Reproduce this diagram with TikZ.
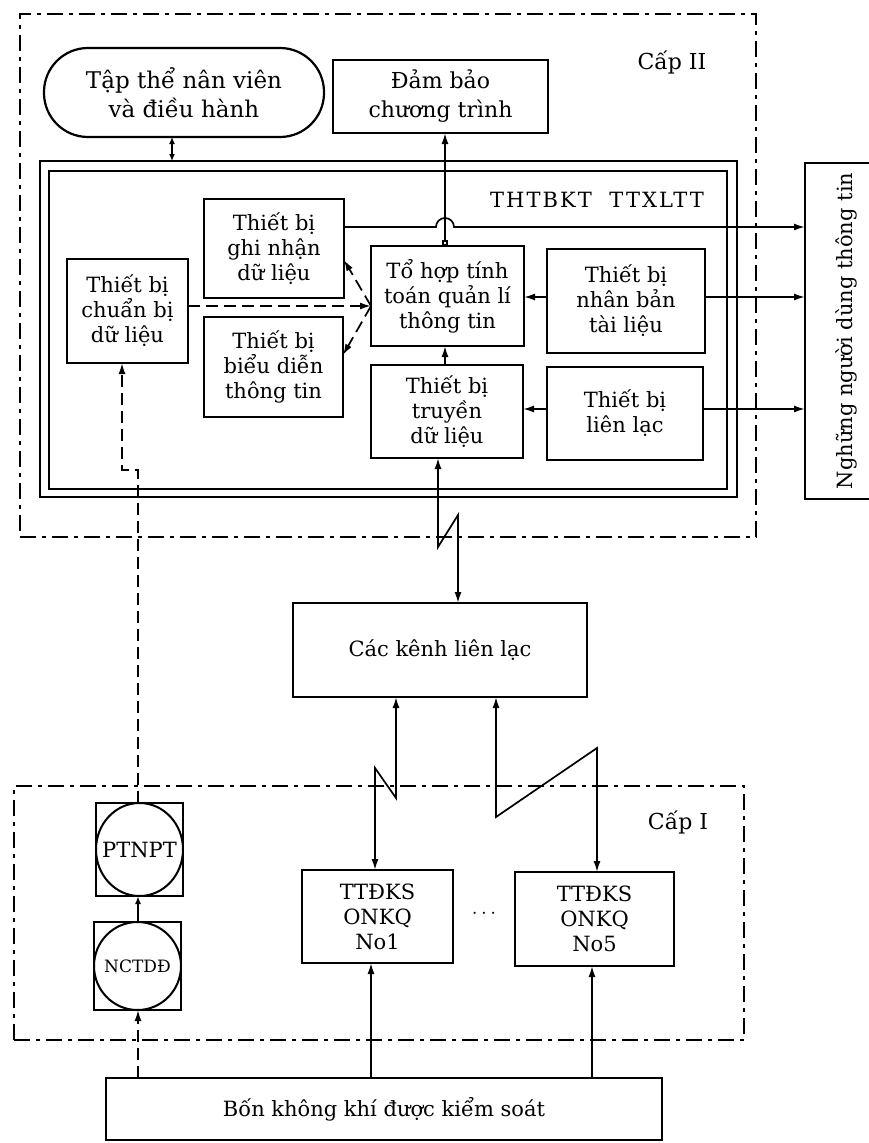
\documentclass[tikz,border=0pt]{standalone}
\usepackage{fontspec}
\setmainfont{DejaVu Serif}
\usetikzlibrary{arrows.meta}
\begin{document}
\begin{tikzpicture}[x={(1pt,0pt)},y={(0pt,-1pt)},
  box/.style={draw,line width=2.2pt,inner sep=0pt,outer sep=0pt,align=center,font=\fontsize{21}{25}\selectfont},
  frm/.style={draw,line width=2.6pt,inner sep=0pt,outer sep=0pt,dash pattern=on 16pt off 6pt on 4pt off 6pt},
  ln/.style={line width=1.7pt},
  tip/.tip={Latex[length=11pt,width=7pt]},
  arr/.style={ln,-tip},
  darr/.style={ln,tip-tip},
  dsh/.style={ln,dash pattern=on 12pt off 6pt},
  lbl/.style={inner sep=0pt,font=\fontsize{22}{26}\selectfont}]
\useasboundingbox (0,0) rectangle (868,1143);

% helper coordinates
\coordinate (X122) at (122,0); \coordinate (X138) at (138,0);
\coordinate (X172) at (172,0); \coordinate (X445) at (445,0);
\coordinate (X438) at (438,0); \coordinate (X458) at (458,0);
\coordinate (X396) at (396,0); \coordinate (X375) at (375,0);
\coordinate (X496) at (496,0); \coordinate (X597) at (597,0);
\coordinate (X371) at (371,0); \coordinate (X592) at (592,0);
\coordinate (Y227) at (0,227); \coordinate (Y260) at (0,260);
\coordinate (Y297) at (0,297); \coordinate (Y306) at (0,306);
\coordinate (Y355) at (0,355); \coordinate (Y409) at (0,409);
\coordinate (Y470) at (0,470);

% level frames
\node[frm,minimum width=736pt,minimum height=523pt] (cap2) at (388,275.5) {};
\node[frm,minimum width=730pt,minimum height=254pt] (cap1) at (379,913) {};
\node[lbl] at (672,62) {Cấp II};
\node[lbl] at (678,822) {Cấp I};

% top boxes
\node[box,rounded corners=44pt,minimum width=280pt,minimum height=89pt,font=\fontsize{23}{29}\selectfont] (tap) at (184,92.5) {Tập thể nân viên\\và điều hành};
\node[box,minimum width=215pt,minimum height=73pt,font=\fontsize{22}{29}\selectfont] (dam) at (440.5,96.5) {Đảm bảo\\chương trình};

% THTBKT double frame
\node[box,minimum width=697pt,minimum height=336pt] (fo) at (388.5,329) {};
\node[box,minimum width=678pt,minimum height=318pt] (fi) at (388,330) {};
\node[lbl,font=\fontsize{21}{25}\selectfont\addfontfeature{LetterSpace=10}] at (597,200) {THTBKT\ \ TTXLTT};

% inner boxes
\node[box,minimum width=140pt,minimum height=99pt] (ghi) at (274,248.5) {Thiết bị\\ghi nhận\\dữ liệu};
\node[box,minimum width=139pt,minimum height=100pt] (bieu) at (273.5,367) {Thiết bị\\biểu diễn\\thông tin};
\node[box,minimum width=121pt,minimum height=104pt] (chuan) at (127.5,311) {Thiết bị\\chuẩn bị\\dữ liệu};
\node[box,minimum width=153pt,minimum height=100pt] (tohop) at (447.5,296) {Tổ hợp tính\\toán quản lí\\thông tin};
\node[box,minimum width=152pt,minimum height=93pt] (truyen) at (447,411.5) {Thiết bị\\truyền\\dữ liệu};
\node[box,minimum width=158pt,minimum height=104pt] (nhan) at (626,301) {Thiết bị\\nhân bản\\tài liệu};
\node[box,minimum width=156pt,minimum height=93pt] (lien) at (625,413.5) {Thiết bị\\liên lạc};

% users
\node[box,minimum width=75pt,minimum height=336pt] (ng) at (842.5,331) {};
\node[lbl,rotate=90,font=\fontsize{21}{25}\selectfont] at (846,331) {Nghững người dùng thông tin};

% channels
\node[box,minimum width=294pt,minimum height=94pt] (kenh) at (440,650) {Các kênh liên lạc};

% level I
\node[box,minimum width=87pt,minimum height=93pt] (pt) at (139.5,849.5) {};
\draw[line width=2pt] (pt.center) ellipse [x radius=43.5, y radius=46.5];
\node[inner sep=0pt,font=\fontsize{21}{22}\selectfont] at (pt.center) {PTNPT};
\node[box,minimum width=87pt,minimum height=88pt] (nc) at (137.5,966) {};
\draw[line width=2pt] (nc.center) ellipse [x radius=43.5, y radius=44];
\node[inner sep=0pt,font=\fontsize{17}{20}\selectfont] at (nc.center) {NCTDĐ};
\node[box,minimum width=151pt,minimum height=93pt] (t1) at (377.5,916.5) {TTĐKS\\ONKQ\\No1};
\node[box,minimum width=159pt,minimum height=94pt] (t5) at (594.5,919) {TTĐKS\\ONKQ\\No5};
\node[inner sep=0pt,font=\fontsize{21}{25}\selectfont] (dots) at (484,914) {$\cdots$};
\node[box,minimum width=556pt,minimum height=62pt] (bon) at (384,1109) {Bốn không khí được kiểm soát};

% connectors, top
\draw[ln,{Latex[length=7pt,width=6pt]}-{Latex[length=7pt,width=6pt]}] (tap.south -| X172) -- (fo.north -| X172);
\draw[ln,{Square[open,length=6pt,width=6pt]}-tip] (tohop.north -| X445) -- (dam.south -| X445);
\draw[arr] (ghi.east |- Y227) -- (436,227) arc[start angle=180,end angle=360,radius=9] -- (ng.west |- Y227);
\draw[dsh,-tip] (chuan.east |- Y306) -- (tohop.west |- Y306);
\draw[dsh,-tip] (tohop.west |- Y306) -- (ghi.east |- Y260);
\draw[dsh,-tip] (tohop.west |- Y306) -- (bieu.east |- Y355);
\draw[dsh,-tip] (pt.north -| X138) -- (X138 |- Y470) -- (X122 |- Y470) -- (chuan.south -| X122);
\draw[arr] (nhan.west |- Y297) -- (tohop.east |- Y297);
\draw[arr] (truyen.north -| X445) -- (tohop.south -| X445);
\draw[arr] (lien.west |- Y409) -- (truyen.east |- Y409);
\draw[arr] (nhan.east |- Y297) -- (ng.west |- Y297);
\draw[arr] (lien.east |- Y409) -- (ng.west |- Y409);

% connectors, middle
\draw[darr] (truyen.south -| X438) -- (438,547) -- (458,515) -- (kenh.north -| X458);
\draw[darr] (kenh.south -| X396) -- (396,798) -- (375,768) -- (t1.north -| X375);
\draw[darr] (kenh.south -| X496) -- (496,817) -- (597,748) -- (t5.north -| X597);

% connectors, bottom
\draw[arr] (bon.north -| X371) -- (t1.south -| X371);
\draw[arr] (bon.north -| X592) -- (t5.south -| X592);
\draw[dsh,-tip] (bon.north -| X138) -- (nc.south -| X138);
\draw[ln,-{Latex[length=8pt,width=6pt]}] (nc.north -| X138) -- (pt.south -| X138);
\end{tikzpicture}
\end{document}
